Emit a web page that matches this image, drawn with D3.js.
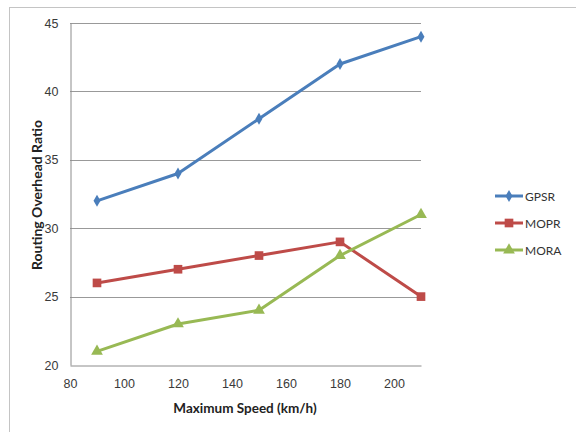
<!DOCTYPE html>
<html>
<head>
<meta charset="utf-8">
<script src="https://cdn.jsdelivr.net/npm/d3@7"></script>
<style>
  html, body { margin: 0; padding: 0; background: #fff; }
  svg { display: block; font-family: Lato, "Liberation Sans", sans-serif; }
</style>
</head>
<body>
<svg id="chart" width="576" height="432"></svg>
<script>
// Routing overhead ratio versus maximum vehicle speed
const speeds = [90, 120, 150, 180, 210];
const gpsr = [32, 34, 38, 42, 44];
const mopr = [26, 27, 28, 29, 25];
const mora = [21, 23, 24, 28, 31];
const xTicks = [80, 100, 120, 140, 160, 180, 200];
const yTicks = [20, 25, 30, 35, 40, 45];
const seriesNames = ["GPSR", "MOPR", "MORA"];

const series = [
  { name: seriesNames[0], values: gpsr, color: "#4A7EBB", marker: "diamond" },
  { name: seriesNames[1], values: mopr, color: "#BE4B48", marker: "square" },
  { name: seriesNames[2], values: mora, color: "#98B954", marker: "triangle" }
];

const svg = d3.select("#chart");
const margin = { left: 70, top: 23, right: 421, bottom: 365 };

// outer frame
svg.append("rect")
  .attr("x", 9.5).attr("y", 7.5)
  .attr("width", 600).attr("height", 500)
  .attr("fill", "none").attr("stroke", "#c4c4c4").attr("stroke-width", 1);

const x = d3.scaleLinear().domain([80, 210]).range([margin.left, margin.right]);
const y = d3.scaleLinear().domain([20, 45]).range([margin.bottom, margin.top]);

// horizontal gridlines
svg.append("g")
  .selectAll("line")
  .data(yTicks.slice(1))
  .join("line")
  .attr("x1", margin.left).attr("x2", margin.right)
  .attr("y1", d => Math.round(y(d)) + 0.5).attr("y2", d => Math.round(y(d)) + 0.5)
  .attr("stroke", "#999").attr("stroke-width", 1);

// y axis
const yAxis = svg.append("g")
  .attr("transform", `translate(${margin.left + 0.5},0)`)
  .call(d3.axisLeft(y).tickValues(yTicks).tickSize(0).tickPadding(12));
yAxis.select(".domain").attr("stroke", "#8c8c8c");
yAxis.selectAll("text").attr("font-size", 12.5).attr("fill", "#3a3a3a");

// x axis
const xAxis = svg.append("g")
  .attr("transform", `translate(0,${margin.bottom + 0.5})`)
  .call(d3.axisBottom(x).tickValues(xTicks).tickSize(0).tickPadding(14));
xAxis.select(".domain").attr("stroke", "#8c8c8c");
xAxis.selectAll("text").attr("font-size", 12.5).attr("fill", "#3a3a3a");

// axis titles
svg.append("text")
  .attr("x", 245).attr("y", 413)
  .attr("text-anchor", "middle")
  .attr("font-size", 13.5).attr("font-weight", "bold").attr("fill", "#222")
  .text("Maximum Speed (km/h)");

svg.append("text")
  .attr("transform", "translate(42,195) rotate(-90)")
  .attr("text-anchor", "middle")
  .attr("font-size", 14).attr("font-weight", "bold").attr("fill", "#222")
  .text("Routing Overhead Ratio");

const symbolFor = {
  diamond: d3.symbol().type(d3.symbolDiamond).size(42),
  square: d3.symbol().type(d3.symbolSquare).size(75),
  triangle: d3.symbol().type(d3.symbolTriangle).size(60)
};

const line = d3.line().x(d => x(d[0])).y(d => y(d[1]));

series.forEach(s => {
  const pts = speeds.map((v, i) => [v, s.values[i]]);
  svg.append("path")
    .datum(pts)
    .attr("d", line)
    .attr("fill", "none")
    .attr("stroke", s.color)
    .attr("stroke-width", 3)
    .attr("stroke-linejoin", "round");
  svg.append("g")
    .selectAll("path")
    .data(pts)
    .join("path")
    .attr("transform", d => `translate(${x(d[0])},${y(d[1])})`)
    .attr("d", symbolFor[s.marker]())
    .attr("fill", s.color);
});

// legend
const legend = svg.append("g");
const legendY = [196, 223, 250];
series.forEach((s, i) => {
  const g = legend.append("g").attr("transform", `translate(495,${legendY[i]})`);
  g.append("line").attr("x1", 0).attr("x2", 28).attr("y1", 0).attr("y2", 0)
    .attr("stroke", s.color).attr("stroke-width", 3);
  g.append("path").attr("transform", "translate(14,0)")
    .attr("d", symbolFor[s.marker]()).attr("fill", s.color);
  g.append("text").attr("x", 30).attr("y", 4.5)
    .attr("font-size", 12).attr("fill", "#333")
    .text(s.name);
});
</script>
</body>
</html>
